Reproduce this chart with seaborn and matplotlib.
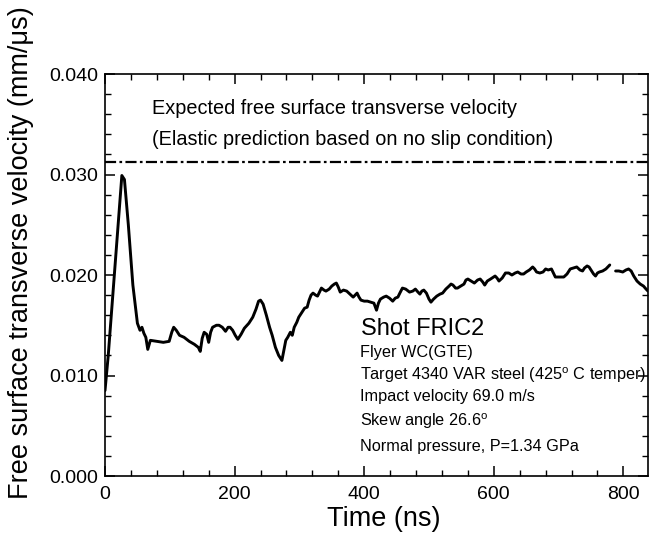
import numpy as np
import pandas as pd
import matplotlib
matplotlib.use("Agg")
import matplotlib.pyplot as plt
import seaborn as sns
from matplotlib.ticker import MultipleLocator, FormatStrFormatter

# ---- data ----
time_ns_a = [0, 5, 12, 20, 26, 30, 36, 43, 50, 54, 57, 60, 63, 66, 70, 80, 90, 99,
             103, 106, 110, 115, 122, 130, 138, 144, 147, 150, 153, 157, 160, 163,
             166, 172, 176, 181, 186, 190, 193, 197, 201, 205, 210, 215, 222, 228,
             233, 237, 240, 244, 249, 254, 258, 263, 268, 273, 276, 279, 282, 286,
             289, 292, 296, 299, 304, 308, 312, 315, 318, 321, 325, 328, 331, 334,
             338, 341, 346, 350, 354, 357, 360, 363, 368, 373, 378, 383, 386, 389,
             392, 395, 400, 405, 410, 415, 419, 422, 425, 430, 434, 439, 444, 448,
             452, 455, 459, 464, 470, 475, 479, 483, 486, 489, 492, 496, 500, 503,
             507, 512, 517, 521, 526, 531, 534, 537, 541, 544, 549, 554, 557, 560,
             565, 570, 575, 579, 583, 586, 590, 595, 602, 605, 608, 613, 618, 623,
             628, 633, 637, 642, 646, 650, 655, 660, 663, 666, 671, 676, 680, 684,
             689, 692, 695, 700, 708, 713, 718, 723, 728, 733, 737, 740, 744, 747,
             750, 754, 757, 760, 763, 768, 773, 776, 779]
velocity_a = [0.0085, 0.0120, 0.0180, 0.0250, 0.0299, 0.0295, 0.0250, 0.0190, 0.0152,
              0.0145, 0.0148, 0.0142, 0.0138, 0.0126, 0.0135, 0.0134, 0.0133, 0.0134,
              0.0143, 0.0148, 0.0145, 0.0140, 0.0138, 0.0134, 0.0131, 0.0128, 0.0124,
              0.0137, 0.0143, 0.0141, 0.0133, 0.0143, 0.0148, 0.0150, 0.0150, 0.0148,
              0.0144, 0.0148, 0.0148, 0.0145, 0.0140, 0.0136, 0.0141, 0.0147, 0.0152,
              0.0158, 0.0166, 0.0174, 0.0175, 0.0171, 0.0160, 0.0148, 0.0140, 0.0128,
              0.0120, 0.0115, 0.0125, 0.0135, 0.0138, 0.0143, 0.0140, 0.0148, 0.0153,
              0.0158, 0.0163, 0.0167, 0.0168, 0.0175, 0.0180, 0.0182, 0.0180, 0.0179,
              0.0183, 0.0187, 0.0185, 0.0184, 0.0186, 0.0189, 0.0191, 0.0192, 0.0188,
              0.0183, 0.0185, 0.0184, 0.0181, 0.0178, 0.0180, 0.0182, 0.0178, 0.0175,
              0.0174, 0.0174, 0.0173, 0.0172, 0.0165, 0.0172, 0.0176, 0.0178, 0.0179,
              0.0177, 0.0174, 0.0177, 0.0178, 0.0182, 0.0187, 0.0186, 0.0183, 0.0184,
              0.0186, 0.0183, 0.0181, 0.0184, 0.0185, 0.0182, 0.0176, 0.0173, 0.0176,
              0.0179, 0.0181, 0.0182, 0.0186, 0.0189, 0.0191, 0.0190, 0.0187, 0.0187,
              0.0189, 0.0191, 0.0195, 0.0196, 0.0194, 0.0192, 0.0195, 0.0196, 0.0193,
              0.0190, 0.0194, 0.0196, 0.0199, 0.0197, 0.0194, 0.0197, 0.0202, 0.0202,
              0.0200, 0.0202, 0.0203, 0.0201, 0.0201, 0.0203, 0.0205, 0.0208, 0.0206,
              0.0203, 0.0202, 0.0203, 0.0206, 0.0205, 0.0206, 0.0202, 0.0198, 0.0198,
              0.0198, 0.0201, 0.0206, 0.0207, 0.0208, 0.0205, 0.0204, 0.0207, 0.0209,
              0.0208, 0.0205, 0.0201, 0.0199, 0.0202, 0.0203, 0.0204, 0.0206, 0.0208,
              0.0210]
time_ns_b = [788, 793, 799, 804, 808, 812, 816, 821, 826, 831, 835, 838, 842, 846]
velocity_b = [0.0204, 0.0204, 0.0203, 0.0205, 0.0206, 0.0204, 0.0199, 0.0194,
              0.0191, 0.0189, 0.0186, 0.0184, 0.0186, 0.0185]
expected_velocity = 0.0312

x_ticks = [0, 200, 400, 600, 800]
y_ticks = [0.000, 0.010, 0.020, 0.030, 0.040]

header_lines = ["Expected free surface transverse velocity",
                "(Elastic prediction based on no slip condition)"]
shot_title = "Shot FRIC2"
shot_details = ["Flyer WC(GTE)",
                "Target 4340 VAR steel (425$^{\\mathrm{o}}$ C temper)",
                "Impact velocity 69.0 m/s",
                "Skew angle 26.6$^{\\mathrm{o}}$",
                "Normal pressure, P=1.34 GPa"]

# ---- style ----
sns.set_theme(style="white")
plt.rcParams['font.family'] = ['Liberation Sans', 'DejaVu Sans']
plt.rcParams['mathtext.fontset'] = 'custom'
plt.rcParams['mathtext.rm'] = 'Liberation Sans'
plt.rcParams['text.color'] = 'black'
plt.rcParams['axes.labelcolor'] = 'black'
plt.rcParams['xtick.color'] = 'black'
plt.rcParams['ytick.color'] = 'black'

fig = plt.figure(figsize=(6.51, 5.34), dpi=100)
ax = fig.add_axes([0.1613, 0.1086, 0.8341, 0.7528])

df_a = pd.DataFrame({"t": time_ns_a, "v": velocity_a})
df_b = pd.DataFrame({"t": time_ns_b, "v": velocity_b})
sns.lineplot(data=df_a, x="t", y="v", ax=ax, color="black", lw=2.1,
             estimator=None, sort=False)
sns.lineplot(data=df_b, x="t", y="v", ax=ax, color="black", lw=2.1,
             estimator=None, sort=False)
ax.axhline(expected_velocity, color="black", lw=1.6,
           linestyle=(0, (5, 1.5, 1.2, 1.5)))

ax.set_xlim(0, 838)
ax.set_ylim(0, 0.040)
ax.set_xticks(x_ticks)
ax.set_yticks(y_ticks)
ax.xaxis.set_minor_locator(MultipleLocator(40))
ax.yaxis.set_minor_locator(MultipleLocator(0.002))
ax.yaxis.set_major_formatter(FormatStrFormatter('%.3f'))
ax.tick_params(which='both', direction='in', top=True, right=True,
               bottom=True, left=True, color='black', labelcolor='black')
ax.tick_params(which='major', length=7, width=1.1, labelsize=14)
ax.tick_params(which='minor', length=4, width=1.0)
ax.tick_params(axis='y', which='major', pad=5)
ax.tick_params(axis='x', which='major', pad=7)
for s in ax.spines.values():
    s.set_color('black')
    s.set_linewidth(1.2)

ax.set_xlabel("Time (ns)", fontsize=19.5, color='black')
ax.xaxis.set_label_coords(0.514, -0.075)
ax.set_ylabel("Free surface transverse velocity (mm/\u03bcs)", fontsize=19.5,
              color='black')
ax.yaxis.set_label_coords(-0.13, 0.555)

ax.text(73, 0.0366, header_lines[0], fontsize=14.3, va='center', ha='left',
        color='black')
ax.text(73, 0.0335, header_lines[1], fontsize=14.3, va='center', ha='left',
        color='black')
ax.text(395, 0.01466, shot_title, fontsize=17, va='center', ha='left',
        color='black')
ys = [0.01228, 0.01008, 0.00787, 0.0055, 0.00295]
for yv, s in zip(ys, shot_details):
    ax.text(393, yv, s, fontsize=11.7, va='center', ha='left', color='black')

fig.savefig("out.png", dpi=100)
